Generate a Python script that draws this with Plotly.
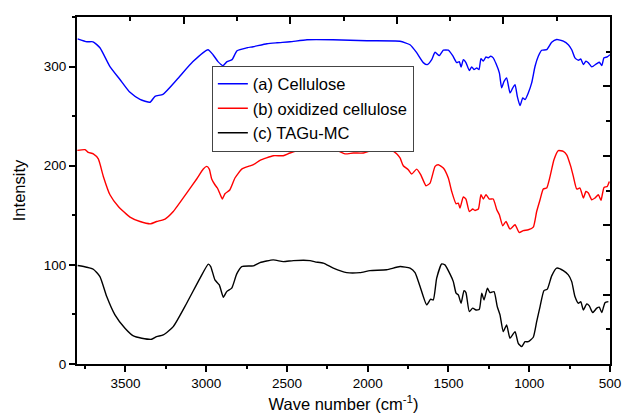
import plotly.graph_objects as go

# (a) Cellulose
wn_a = [3796, 3738, 3701, 3658, 3596, 3534, 3472, 3410, 3348, 3317, 3268, 3181, 3082, 2989, 2958, 2927,
        2896, 2871, 2840, 2809, 2747, 2710, 2624, 2562, 2481, 2376, 2215, 2004, 1800, 1738, 1697, 1656,
        1631, 1604, 1583, 1557, 1532, 1501, 1474, 1449, 1433, 1422, 1408, 1392, 1371, 1356, 1342, 1325,
        1311, 1299, 1284, 1268, 1253, 1239, 1223, 1206, 1185, 1171, 1156, 1140, 1119, 1102, 1088, 1074,
        1057, 1040, 1026, 1006, 985, 964, 944, 923, 892, 861, 830, 789, 758, 737, 717, 696, 681, 665,
        649, 634, 613, 582, 566, 551, 537, 517, 500]
int_a = [328, 325, 325, 319, 300, 287, 274, 267, 264, 270, 272, 287, 305, 317, 312, 305,
         301, 305, 307, 316, 319, 320, 323, 324, 325, 327, 327, 326, 325.5, 322, 314, 304,
         302, 307, 314.5, 311, 316.5, 316.5, 311, 304, 305, 299.5, 307, 304, 296, 299.7, 297, 298.6,
         297, 308, 305.5, 309.8, 308.8, 310.4, 308.8, 303, 293.6, 278.5, 285, 288.5, 273.4, 278.5, 281.8, 270,
         260.6, 268.3, 266.7, 273.4, 283.5, 300.3, 310.4, 316.5, 317, 324.5, 327.3, 325.6, 322, 317, 308.8, 306.4, 307.7, 302,
         305.5, 303.8, 299.7, 303, 304.4, 301, 308.8, 309.8, 312]

# (b) oxidized cellulose
wn_b = [3798, 3750, 3730, 3699, 3668, 3637, 3596, 3544, 3472, 3410, 3344, 3307, 3255, 3204, 3121, 3059,
        3018, 2997, 2981, 2966, 2946, 2931, 2915, 2900, 2884, 2853, 2822, 2780, 2739, 2708, 2667, 2585,
        2523, 2481, 2399, 2296, 2192, 2141, 2089, 2027, 1975, 1904, 1852, 1821, 1800, 1780, 1749, 1728,
        1697, 1672, 1639, 1614, 1583, 1563, 1532, 1501, 1480, 1453, 1439, 1429, 1408, 1392, 1371, 1350,
        1336, 1315, 1299, 1284, 1268, 1247, 1223, 1201, 1185, 1164, 1144, 1119, 1088, 1062, 1037, 1006,
        975, 954, 933, 913, 892, 871, 847, 820, 789, 768, 743, 727, 706, 686, 665, 649, 634, 613, 593,
        572, 556, 537, 517, 504]
int_b = [215.5, 216.2, 213.4, 212, 206.8, 189.2, 170.7, 158.9, 148.2, 143.7, 141.4, 143.7, 146.2, 153.8, 172.4, 186.6,
         196.6, 199.3, 196.6, 186.6, 180.8, 177.5, 171.7, 166.4, 171.7, 175.8, 187.6, 196.6, 199.3, 201, 205.4, 210.1,
         210.1, 212.8, 216.2, 216.2, 215.5, 212, 212.8, 212.8, 215.5, 216.9, 215.5, 212, 207.8, 200, 196, 191.6,
         196.6, 191, 179.8, 182.5, 199.3, 201, 197.7, 187.6, 174, 161.6, 162.3, 157.3, 168.4, 166.4, 153.8, 156.3,
         154.9, 156.3, 170.7, 166.4, 170.7, 166.4, 166.4, 155.6, 150.5, 139.4, 143.7, 136, 140.4, 132.6, 134.6, 135.4,
         138, 153.8, 165.7, 176.5, 177.5, 189.2, 206, 215.2, 214.4, 211, 199.3, 189.2, 176.5, 177.5, 167.4, 174, 172.4, 165.7, 167.4,
         170.7, 165, 178.1, 179.1, 184]

# (c) TAGu-MC
wn_c = [3796, 3740, 3699, 3658, 3616, 3565, 3503, 3451, 3399, 3338, 3307, 3266, 3204, 3121, 3038, 2987,
        2972, 2946, 2919, 2894, 2873, 2842, 2811, 2780, 2708, 2667, 2585, 2523, 2461, 2357, 2326, 2275,
        2213, 2130, 2048, 1986, 1883, 1800, 1738, 1707, 1676, 1635, 1610, 1594, 1573, 1542, 1522, 1491,
        1470, 1453, 1439, 1422, 1404, 1392, 1371, 1350, 1330, 1309, 1294, 1280, 1259, 1243, 1218, 1198,
        1181, 1161, 1140, 1119, 1088, 1068, 1047, 1026, 1006, 975, 954, 933, 909, 888, 861, 830, 789,
        758, 737, 717, 696, 681, 665, 644, 628, 607, 582, 566, 551, 531, 510]
int_c = [99.3, 97.6, 95.6, 88.2, 68, 49.5, 36, 28.3, 26, 24.9, 27.6, 29.3, 37.7, 61.3, 86.6, 100.7,
         98.3, 84.8, 79.8, 67.4, 73, 76.5, 90.9, 98.3, 99, 102.3, 105, 103.3, 104.3, 104.3, 103, 101.7,
         96.7, 92.2, 92.2, 94.2, 95, 98.3, 96.7, 92.2, 78.1, 59.6, 65.4, 64.6, 86.6, 101, 100, 90.9,
         83.1, 71.4, 69.7, 61.3, 74, 72, 52.8, 56.3, 54.5, 55.3, 71.4, 64.6, 76.5, 72, 73, 57.9,
         49.5, 32.6, 39.4, 26, 32.6, 20.9, 17.5, 22.5, 22.5, 27, 42.7, 57.9, 74, 75.5, 88.9, 96.7, 94.2,
         89.9, 83.1, 68, 61.3, 62.9, 54.5, 60.6, 58.6, 51.8, 56.3, 57.3, 51.8, 61.9, 62.9]

names = ["(a) Cellulose", "(b) oxidized cellulose", "(c) TAGu-MC"]
colors = ["#0000FF", "#FF0000", "#000000"]

# unlabeled frame ticks on the top and right edges (10 divisions each)
frame_major = [0, 2, 4, 6, 8, 10]
frame_minor = [1, 3, 5, 7, 9]

FONT = "Liberation Sans, Arial, sans-serif"

fig = go.Figure()
for wn, it, nm, col in [(wn_a, int_a, names[0], colors[0]),
                        (wn_b, int_b, names[1], colors[1]),
                        (wn_c, int_c, names[2], colors[2])]:
    fig.add_trace(go.Scatter(x=wn, y=it, mode="lines", name=nm,
                             line=dict(color=col, width=1.4, shape="spline", smoothing=0.5)))

# empty trace so that the secondary (top / right) tick axes are drawn
fig.add_trace(go.Scatter(x=[], y=[], xaxis="x2", yaxis="y2", mode="lines",
                         showlegend=False, hoverinfo="skip"))

frame_axis = dict(range=[0, 10], autorange=False, automargin=False,
                  tickmode="array", tickvals=frame_major, ticktext=[""] * len(frame_major),
                  showticklabels=True,
                  showline=True, linecolor="black", linewidth=2,
                  ticks="inside", ticklen=7, tickwidth=2, tickcolor="black",
                  minor=dict(ticks="inside", ticklen=4, tickwidth=1.5, tickcolor="black",
                             tickmode="array", tickvals=frame_minor),
                  showgrid=False, zeroline=False)

fig.update_layout(
    width=622, height=420,
    margin=dict(l=77, r=12, t=17, b=56, autoexpand=False),
    paper_bgcolor="white", plot_bgcolor="white",
    font=dict(family=FONT, color="black", size=13.5),
    showlegend=True,
    legend=dict(x=0.253, y=0.86, xanchor="left", yanchor="top",
                bgcolor="white", bordercolor="#444", borderwidth=1,
                font=dict(family=FONT, size=16.5, color="black"),
                tracegroupgap=0),
    xaxis=dict(range=[3800, 500], autorange=False, tick0=500, dtick=500, automargin=False,
               showline=True, linecolor="black", linewidth=2, mirror=True,
               ticks="outside", ticklen=6, tickwidth=2, tickcolor="black",
               minor=dict(ticks="outside", ticklen=3, tickwidth=1.5, tickcolor="black", dtick=250, tick0=500),
               showgrid=False, zeroline=False,
               tickfont=dict(size=13.5, family=FONT),
               title=dict(text="Wave number (cm<sup>-1</sup>)", font=dict(size=16.5, family=FONT), standoff=8)),
    yaxis=dict(range=[0, 350], autorange=False, tick0=0, dtick=100, automargin=False,
               showline=True, linecolor="black", linewidth=2, mirror=True,
               ticks="outside", ticklen=6, tickwidth=2, tickcolor="black",
               minor=dict(ticks="outside", ticklen=3, tickwidth=1.5, tickcolor="black", dtick=50, tick0=0),
               showgrid=False, zeroline=False,
               tickfont=dict(size=13.5, family=FONT),
               title=dict(text="Intensity", font=dict(size=16.5, family=FONT), standoff=14)),
    xaxis2=dict(overlaying="x", side="top", anchor="y2", **frame_axis),
    yaxis2=dict(overlaying="y", side="right", anchor="x2", **frame_axis),
)

fig.write_html("out.html", post_script="document.body.style.margin='0';",
               config={"displayModeBar": False})
